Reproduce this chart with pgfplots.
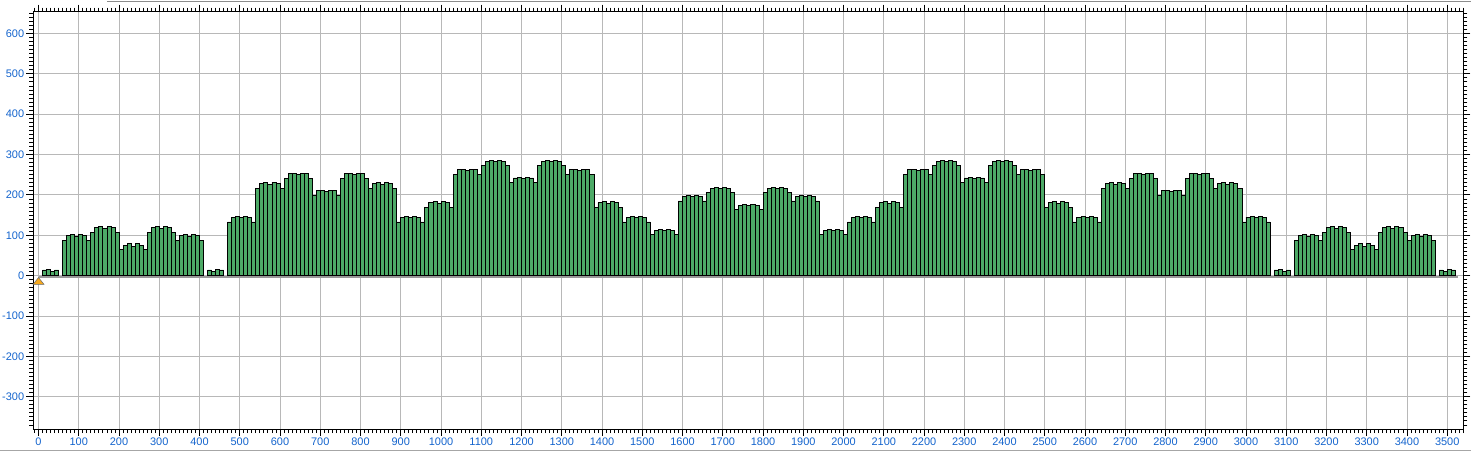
\documentclass[border=0pt]{standalone}
\usepackage{pgfplots}
\pgfplotsset{compat=1.18}
\usepackage{fontspec}
\setmainfont{Liberation Sans}
\definecolor{barGreen}{RGB}{77,170,103}
\definecolor{tickBlue}{RGB}{20,100,205}
\definecolor{cursorOrange}{RGB}{245,168,30}
\begin{document}
\begin{tikzpicture}
\path[use as bounding box] (-33.3bp,-24bp) rectangle (1437.7bp,429bp);
\draw[black!35, line width=1bp] (-33.3bp,-21bp) -- (1437.7bp,-21bp);
\draw[black!45, line width=1bp] (73.7bp,427.5bp) -- (1437.7bp,427.5bp);
\begin{axis}[
    scale only axis,
    width=1430bp, height=417.3bp,
    xmin=-13, xmax=3540,
    ymin=-380, ymax=654,
    xtick={0,100,...,3500},
    ytick={-300,-200,...,600},
    minor xtick={-10,0,...,3540},
    minor ytick={-370,-360,...,650},
    tick align=outside,
    major tick length=7bp,
    minor tick length=4bp,
    every tick/.style={black, line width=0.9bp},
    axis line style={black, line width=1bp},
    grid=major,
    major grid style={black!28, line width=0.9bp},
    ticklabel style={font=\fontsize{11}{12}\selectfont, text=tickBlue, inner sep=2bp},
    /pgf/number format/assume math mode=true,
    /pgf/number format/set thousands separator={},
    ybar,
    bar width=10,
]
% baseline
\addplot[ybar=0pt, sharp plot, draw=black!40, line width=2bp, forget plot] coordinates {(0,-2.5) (3527,-2.5)};

\addplot[fill=barGreen, draw=black, line width=0.9bp] coordinates {
(15,14)(25,16)(35,11)(45,14)
(65,87)(75,99)(85,101)(95,97)(105,101)(115,99)(125,87)
(135,107)(145,119)(155,121)(165,117)(175,121)(185,119)(195,107)
(205,64)(215,75)(225,79)(235,73)(245,79)(255,75)(265,64)
(275,107)(285,119)(295,121)(305,117)(315,121)(325,119)(335,107)
(345,87)(355,99)(365,101)(375,97)(385,101)(395,99)(405,87)
(425,14)(435,11)(445,16)(455,14)
(475,133)(485,145)(495,147)(505,143)(515,147)(525,145)(535,133)
(545,217)(555,229)(565,231)(575,227)(585,231)(595,229)(605,217)
(615,240)(625,252)(635,254)(645,250)(655,254)(665,252)(675,240)
(685,198)(695,210)(705,212)(715,208)(725,212)(735,210)(745,198)
(755,240)(765,252)(775,254)(785,250)(795,254)(805,252)(815,240)
(825,217)(835,229)(845,231)(855,227)(865,231)(875,229)(885,217)
(895,133)(905,145)(915,147)(925,143)(935,147)(945,145)(955,133)
(965,169)(975,181)(985,183)(995,179)(1005,183)(1015,181)(1025,169)
(1035,250)(1045,262)(1055,264)(1065,260)(1075,264)(1085,262)(1095,250)
(1105,272)(1115,284)(1125,286)(1135,282)(1145,286)(1155,284)(1165,272)
(1175,230)(1185,242)(1195,244)(1205,240)(1215,244)(1225,242)(1235,230)
(1245,272)(1255,284)(1265,286)(1275,282)(1285,286)(1295,284)(1305,272)
(1315,250)(1325,262)(1335,264)(1345,260)(1355,264)(1365,262)(1375,250)
(1385,169)(1395,181)(1405,183)(1415,179)(1425,183)(1435,181)(1445,169)
(1455,133)(1465,145)(1475,147)(1485,143)(1495,147)(1505,145)(1515,133)
(1525,101)(1535,113)(1545,115)(1555,111)(1565,115)(1575,113)(1585,101)
(1595,185)(1605,197)(1615,199)(1625,195)(1635,199)(1645,197)(1655,185)
(1665,205)(1675,217)(1685,219)(1695,215)(1705,219)(1715,217)(1725,205)
(1735,163)(1745,175)(1755,177)(1765,173)(1775,177)(1785,175)(1795,163)
(1805,205)(1815,217)(1825,219)(1835,215)(1845,219)(1855,217)(1865,205)
(1875,185)(1885,197)(1895,199)(1905,195)(1915,199)(1925,197)(1935,185)
(1945,101)(1955,113)(1965,115)(1975,111)(1985,115)(1995,113)(2005,101)
(2015,133)(2025,145)(2035,147)(2045,143)(2055,147)(2065,145)(2075,133)
(2085,169)(2095,181)(2105,183)(2115,179)(2125,183)(2135,181)(2145,169)
(2155,250)(2165,262)(2175,264)(2185,260)(2195,264)(2205,262)(2215,250)
(2225,272)(2235,284)(2245,286)(2255,282)(2265,286)(2275,284)(2285,272)
(2295,230)(2305,242)(2315,244)(2325,240)(2335,244)(2345,242)(2355,230)
(2365,272)(2375,284)(2385,286)(2395,282)(2405,286)(2415,284)(2425,272)
(2435,250)(2445,262)(2455,264)(2465,260)(2475,264)(2485,262)(2495,250)
(2505,169)(2515,181)(2525,183)(2535,179)(2545,183)(2555,181)(2565,169)
(2575,133)(2585,145)(2595,147)(2605,143)(2615,147)(2625,145)(2635,133)
(2645,217)(2655,229)(2665,231)(2675,227)(2685,231)(2695,229)(2705,217)
(2715,240)(2725,252)(2735,254)(2745,250)(2755,254)(2765,252)(2775,240)
(2785,198)(2795,210)(2805,212)(2815,208)(2825,212)(2835,210)(2845,198)
(2855,240)(2865,252)(2875,254)(2885,250)(2895,254)(2905,252)(2915,240)
(2925,217)(2935,229)(2945,231)(2955,227)(2965,231)(2975,229)(2985,217)
(2995,133)(3005,145)(3015,147)(3025,143)(3035,147)(3045,145)(3055,133)
(3075,14)(3085,16)(3095,11)(3105,14)
(3125,87)(3135,99)(3145,101)(3155,97)(3165,101)(3175,99)(3185,87)
(3195,107)(3205,119)(3215,121)(3225,117)(3235,121)(3245,119)(3255,107)
(3265,64)(3275,75)(3285,79)(3295,73)(3305,79)(3315,75)(3325,64)
(3335,107)(3345,119)(3355,121)(3365,117)(3375,121)(3385,119)(3395,107)
(3405,87)(3415,99)(3425,101)(3435,97)(3445,101)(3455,99)(3465,87)
(3485,14)(3495,11)(3505,16)(3515,14)
};

% cursor marker
\addplot[only marks, mark=triangle*, mark size=6.3bp,
    mark options={fill=cursorOrange, draw=black!60, line width=0.5bp, yscale=0.72}]
    coordinates {(0,-16)};
\end{axis}
\end{tikzpicture}
\end{document}
